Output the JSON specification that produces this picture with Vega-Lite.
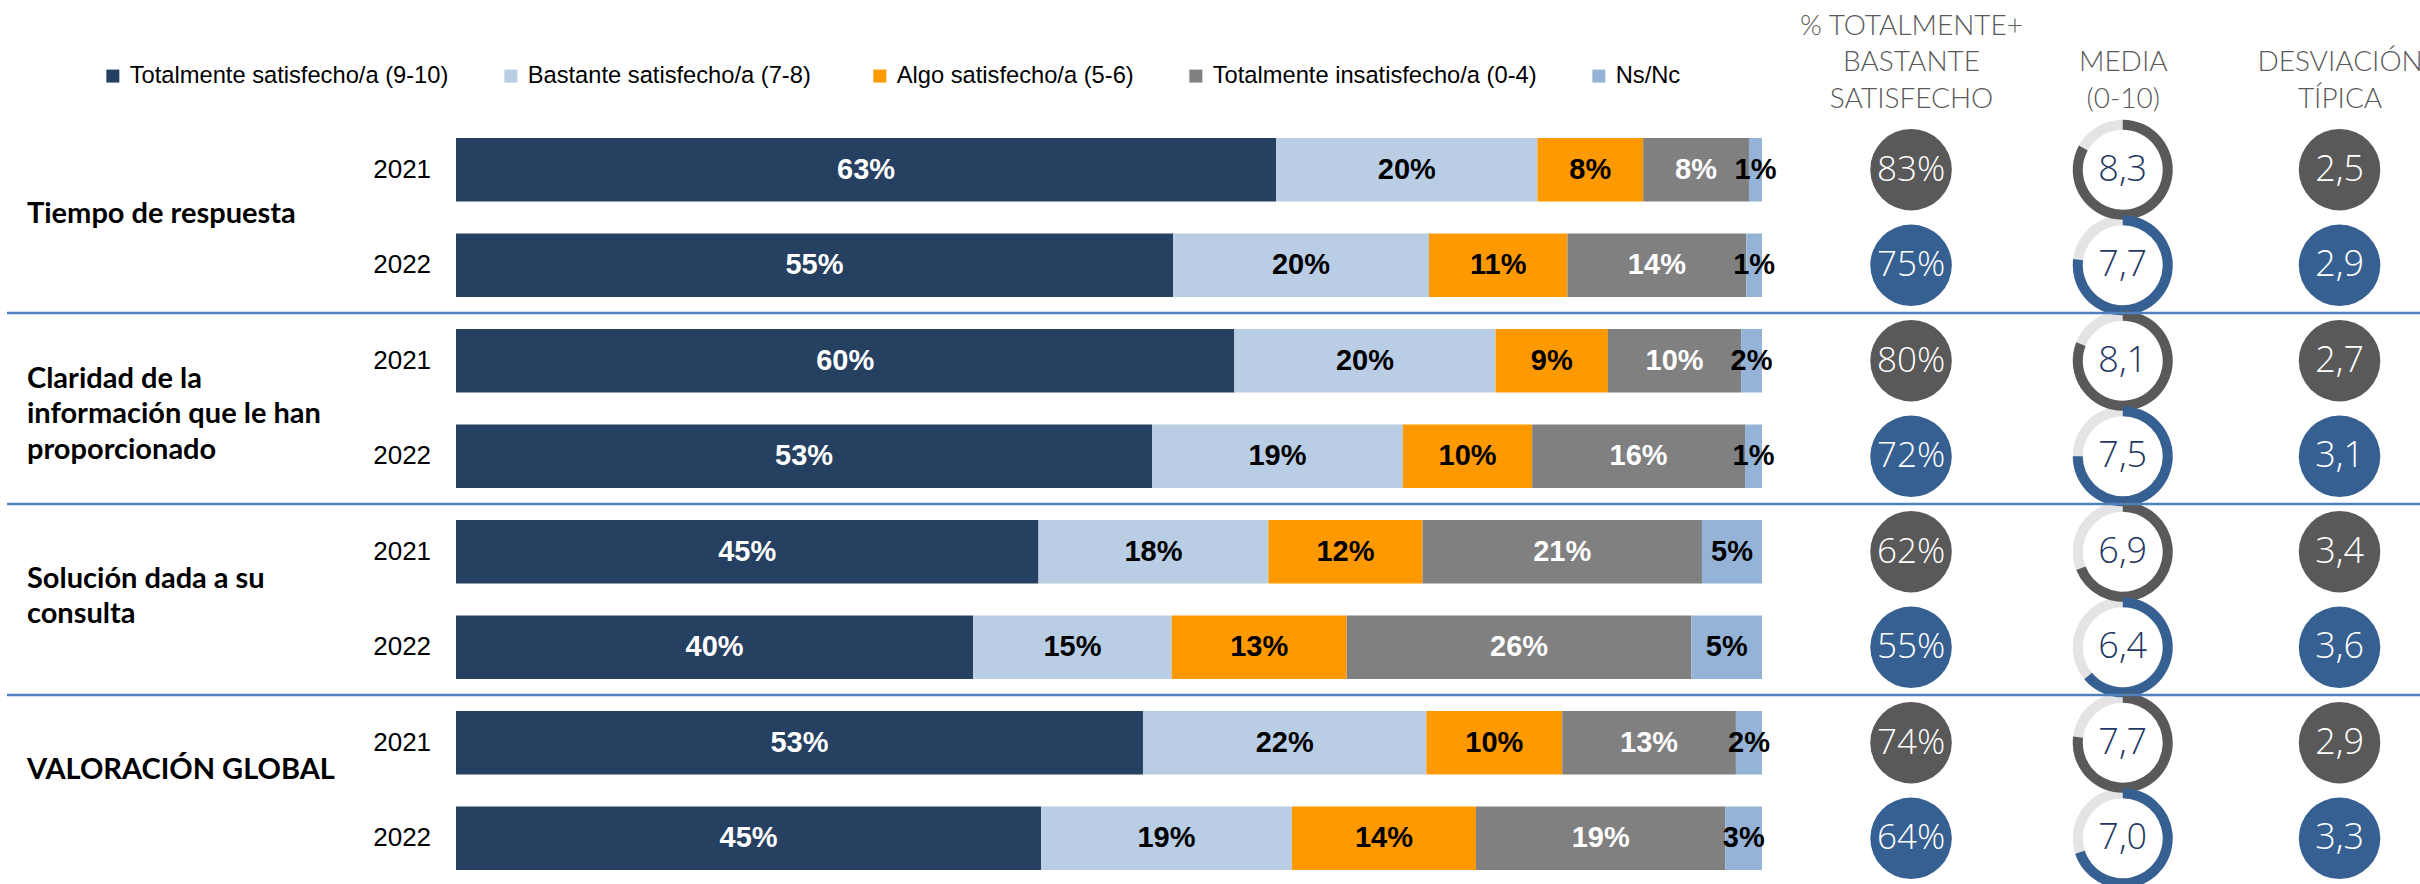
{
  "$schema": "https://vega.github.io/schema/vega-lite/v6.json",
  "autosize": "none",
  "width": 1964,
  "height": 764,
  "padding": {"left": 456, "top": 122, "right": 0, "bottom": 0},
  "background": "white",
  "config": {
    "view": {"stroke": null},
    "locale": {"number": {"decimal": ",", "thousands": ".", "grouping": [3], "currency": ["", " €"]}}
  },
  "datasets": {
    "bars": [
      {"c": "Tiempo de respuesta", "year": 2021, "resp": "Totalmente satisfecho/a (9-10)", "k": 1, "v": 0.628},
      {"c": "Tiempo de respuesta", "year": 2021, "resp": "Bastante satisfecho/a  (7-8)", "k": 2, "v": 0.200},
      {"c": "Tiempo de respuesta", "year": 2021, "resp": "Algo satisfecho/a (5-6)", "k": 3, "v": 0.081},
      {"c": "Tiempo de respuesta", "year": 2021, "resp": "Totalmente insatisfecho/a (0-4)", "k": 4, "v": 0.081},
      {"c": "Tiempo de respuesta", "year": 2021, "resp": "Ns/Nc", "k": 5, "v": 0.010},
      {"c": "Tiempo de respuesta", "year": 2022, "resp": "Totalmente satisfecho/a (9-10)", "k": 1, "v": 0.549},
      {"c": "Tiempo de respuesta", "year": 2022, "resp": "Bastante satisfecho/a  (7-8)", "k": 2, "v": 0.196},
      {"c": "Tiempo de respuesta", "year": 2022, "resp": "Algo satisfecho/a (5-6)", "k": 3, "v": 0.106},
      {"c": "Tiempo de respuesta", "year": 2022, "resp": "Totalmente insatisfecho/a (0-4)", "k": 4, "v": 0.137},
      {"c": "Tiempo de respuesta", "year": 2022, "resp": "Ns/Nc", "k": 5, "v": 0.012},
      {"c": "Claridad de la\ninformación que le han\nproporcionado", "year": 2021, "resp": "Totalmente satisfecho/a (9-10)", "k": 1, "v": 0.596},
      {"c": "Claridad de la\ninformación que le han\nproporcionado", "year": 2021, "resp": "Bastante satisfecho/a  (7-8)", "k": 2, "v": 0.200},
      {"c": "Claridad de la\ninformación que le han\nproporcionado", "year": 2021, "resp": "Algo satisfecho/a (5-6)", "k": 3, "v": 0.086},
      {"c": "Claridad de la\ninformación que le han\nproporcionado", "year": 2021, "resp": "Totalmente insatisfecho/a (0-4)", "k": 4, "v": 0.102},
      {"c": "Claridad de la\ninformación que le han\nproporcionado", "year": 2021, "resp": "Ns/Nc", "k": 5, "v": 0.016},
      {"c": "Claridad de la\ninformación que le han\nproporcionado", "year": 2022, "resp": "Totalmente satisfecho/a (9-10)", "k": 1, "v": 0.533},
      {"c": "Claridad de la\ninformación que le han\nproporcionado", "year": 2022, "resp": "Bastante satisfecho/a  (7-8)", "k": 2, "v": 0.192},
      {"c": "Claridad de la\ninformación que le han\nproporcionado", "year": 2022, "resp": "Algo satisfecho/a (5-6)", "k": 3, "v": 0.099},
      {"c": "Claridad de la\ninformación que le han\nproporcionado", "year": 2022, "resp": "Totalmente insatisfecho/a (0-4)", "k": 4, "v": 0.163},
      {"c": "Claridad de la\ninformación que le han\nproporcionado", "year": 2022, "resp": "Ns/Nc", "k": 5, "v": 0.013},
      {"c": "Solución dada a su\nconsulta", "year": 2021, "resp": "Totalmente satisfecho/a (9-10)", "k": 1, "v": 0.446},
      {"c": "Solución dada a su\nconsulta", "year": 2021, "resp": "Bastante satisfecho/a  (7-8)", "k": 2, "v": 0.176},
      {"c": "Solución dada a su\nconsulta", "year": 2021, "resp": "Algo satisfecho/a (5-6)", "k": 3, "v": 0.118},
      {"c": "Solución dada a su\nconsulta", "year": 2021, "resp": "Totalmente insatisfecho/a (0-4)", "k": 4, "v": 0.214},
      {"c": "Solución dada a su\nconsulta", "year": 2021, "resp": "Ns/Nc", "k": 5, "v": 0.046},
      {"c": "Solución dada a su\nconsulta", "year": 2022, "resp": "Totalmente satisfecho/a (9-10)", "k": 1, "v": 0.396},
      {"c": "Solución dada a su\nconsulta", "year": 2022, "resp": "Bastante satisfecho/a  (7-8)", "k": 2, "v": 0.152},
      {"c": "Solución dada a su\nconsulta", "year": 2022, "resp": "Algo satisfecho/a (5-6)", "k": 3, "v": 0.134},
      {"c": "Solución dada a su\nconsulta", "year": 2022, "resp": "Totalmente insatisfecho/a (0-4)", "k": 4, "v": 0.264},
      {"c": "Solución dada a su\nconsulta", "year": 2022, "resp": "Ns/Nc", "k": 5, "v": 0.054},
      {"c": "VALORACIÓN GLOBAL", "year": 2021, "resp": "Totalmente satisfecho/a (9-10)", "k": 1, "v": 0.526},
      {"c": "VALORACIÓN GLOBAL", "year": 2021, "resp": "Bastante satisfecho/a  (7-8)", "k": 2, "v": 0.217},
      {"c": "VALORACIÓN GLOBAL", "year": 2021, "resp": "Algo satisfecho/a (5-6)", "k": 3, "v": 0.104},
      {"c": "VALORACIÓN GLOBAL", "year": 2021, "resp": "Totalmente insatisfecho/a (0-4)", "k": 4, "v": 0.133},
      {"c": "VALORACIÓN GLOBAL", "year": 2021, "resp": "Ns/Nc", "k": 5, "v": 0.020},
      {"c": "VALORACIÓN GLOBAL", "year": 2022, "resp": "Totalmente satisfecho/a (9-10)", "k": 1, "v": 0.448},
      {"c": "VALORACIÓN GLOBAL", "year": 2022, "resp": "Bastante satisfecho/a  (7-8)", "k": 2, "v": 0.192},
      {"c": "VALORACIÓN GLOBAL", "year": 2022, "resp": "Algo satisfecho/a (5-6)", "k": 3, "v": 0.141},
      {"c": "VALORACIÓN GLOBAL", "year": 2022, "resp": "Totalmente insatisfecho/a (0-4)", "k": 4, "v": 0.191},
      {"c": "VALORACIÓN GLOBAL", "year": 2022, "resp": "Ns/Nc", "k": 5, "v": 0.028}
    ],
    "metrics": [
      {"c": "Tiempo de respuesta", "year": 2021, "tb": 0.83, "media": 8.3, "sd": 2.5},
      {"c": "Tiempo de respuesta", "year": 2022, "tb": 0.75, "media": 7.7, "sd": 2.9},
      {"c": "Claridad de la\ninformación que le han\nproporcionado", "year": 2021, "tb": 0.80, "media": 8.1, "sd": 2.7},
      {"c": "Claridad de la\ninformación que le han\nproporcionado", "year": 2022, "tb": 0.72, "media": 7.5, "sd": 3.1},
      {"c": "Solución dada a su\nconsulta", "year": 2021, "tb": 0.62, "media": 6.9, "sd": 3.4},
      {"c": "Solución dada a su\nconsulta", "year": 2022, "tb": 0.55, "media": 6.4, "sd": 3.6},
      {"c": "VALORACIÓN GLOBAL", "year": 2021, "tb": 0.74, "media": 7.7, "sd": 2.9},
      {"c": "VALORACIÓN GLOBAL", "year": 2022, "tb": 0.64, "media": 7.0, "sd": 3.3}
    ]
  },
  "layer": [
    {
      "data": {"name": "bars"},
      "mark": {"type": "bar"},
      "encoding": {
        "x": {
          "field": "v", "type": "quantitative", "stack": "zero",
          "scale": {"domain": [0, 1.5038], "nice": false, "zero": false},
          "axis": {
            "orient": "top", "values": [1.1141, 1.2762, 1.4422],
            "labelExpr": "datum.value < 1.2 ? ['% TOTALMENTE+', 'BASTANTE', 'SATISFECHO'] : datum.value < 1.35 ? ['', 'MEDIA', '(0-10)'] : ['', 'DESVIACIÓN', 'TÍPICA']",
            "title": null, "domain": false, "ticks": false, "tickSize": 0, "grid": false,
            "labelFont": "Lato", "labelFontSize": 28, "labelFontWeight": 300, "labelColor": "#595959",
            "labelLineHeight": 36.5, "labelPadding": 96, "labelOverlap": false, "labelBound": false,
            "labelFlush": false, "labelBaseline": "middle", "labelAlign": "center", "labelLimit": 1000
          }
        },
        "y": {
          "field": "c", "type": "nominal", "sort": null, "axis": null,
          "scale": {
            "domain": ["Tiempo de respuesta", "Claridad de la\ninformación que le han\nproporcionado", "Solución dada a su\nconsulta", "VALORACIÓN GLOBAL"],
            "paddingInner": 0, "paddingOuter": 0
          }
        },
        "yOffset": {"field": "year", "type": "ordinal", "scale": {"paddingInner": 0.3358, "paddingOuter": 0.167}},
        "color": {
          "field": "resp", "type": "nominal",
          "scale": {
            "domain": ["Totalmente satisfecho/a (9-10)", "Bastante satisfecho/a  (7-8)", "Algo satisfecho/a (5-6)", "Totalmente insatisfecho/a (0-4)", "Ns/Nc"],
            "range": ["#264061", "#B9CDE5", "#FF9900", "#808080", "#95B3D7"]
          },
          "legend": {
            "orient": "none", "legendX": -355, "legendY": -58, "direction": "horizontal", "columns": 5,
            "title": null, "symbolType": "square", "symbolSize": 169, "symbolStrokeWidth": 0,
            "labelFont": "Liberation Sans", "labelFontSize": 23.7, "labelColor": "black", "labelLimit": 1000,
            "labelOffset": 5, "columnPadding": 50, "padding": 0, "rowPadding": 0
          }
        },
        "order": {"field": "k", "type": "quantitative"}
      }
    },
    {
      "data": {"name": "bars"},
      "mark": {"type": "text", "font": "Liberation Sans", "fontWeight": "bold", "fontSize": 29, "align": "center", "baseline": "middle"},
      "encoding": {
        "x": {"field": "v", "type": "quantitative", "stack": "zero", "bandPosition": 0.5},
        "y": {"field": "c", "type": "nominal", "sort": null},
        "yOffset": {"field": "year", "type": "ordinal"},
        "detail": {"field": "resp"},
        "order": {"field": "k", "type": "quantitative"},
        "text": {"field": "v", "type": "quantitative", "format": ".0%"},
        "color": {"condition": {"test": "datum.k == 1 || datum.k == 4", "value": "white"}, "value": "black"}
      }
    },
    {
      "data": {"name": "metrics"},
      "mark": {"type": "text", "font": "Liberation Sans", "fontSize": 26, "align": "right", "baseline": "middle", "color": "black"},
      "encoding": {
        "x": {"datum": -0.0191, "type": "quantitative"},
        "y": {"field": "c", "type": "nominal", "sort": null},
        "yOffset": {"field": "year", "type": "ordinal"},
        "text": {"field": "year", "type": "nominal"}
      }
    },
    {
      "data": {"name": "metrics"},
      "transform": [{"filter": "datum.year == 2021 && datum.c == 'Tiempo de respuesta'"}],
      "mark": {"type": "text", "font": "Lato", "fontWeight": "bold", "fontSize": 29, "align": "left", "baseline": "middle", "dy": -4, "color": "black"},
      "encoding": {
        "x": {"datum": -0.3285, "type": "quantitative"},
        "y": {"field": "c", "type": "nominal", "sort": null},
        "text": {"field": "c", "type": "nominal"}
      }
    },
    {
      "data": {"name": "metrics"},
      "transform": [{"filter": "datum.year == 2021 && indexof(datum.c, 'Claridad') == 0"}],
      "mark": {"type": "text", "font": "Lato", "fontWeight": "bold", "fontSize": 29, "lineBreak": "\n", "lineHeight": 35.5, "align": "left", "baseline": "middle", "dy": -30, "color": "black"},
      "encoding": {
        "x": {"datum": -0.3285, "type": "quantitative"},
        "y": {"field": "c", "type": "nominal", "sort": null},
        "text": {"field": "c", "type": "nominal"}
      }
    },
    {
      "data": {"name": "metrics"},
      "transform": [{"filter": "datum.year == 2021 && (indexof(datum.c, 'Soluci') == 0 || datum.c == 'VALORACIÓN GLOBAL')"}],
      "mark": {"type": "text", "font": "Lato", "fontWeight": "bold", "fontSize": 29, "lineBreak": "\n", "lineHeight": 35.5, "align": "left", "baseline": "middle", "dy": -21, "color": "black"},
      "encoding": {
        "x": {"datum": -0.3285, "type": "quantitative"},
        "y": {"field": "c", "type": "nominal", "sort": null},
        "text": {"field": "c", "type": "nominal"}
      }
    },
    {
      "data": {"name": "metrics"},
      "mark": {"type": "point", "shape": "circle", "filled": true, "opacity": 1, "size": 6648, "strokeWidth": 0},
      "encoding": {
        "x": {"datum": 1.1141, "type": "quantitative"},
        "y": {"field": "c", "type": "nominal", "sort": null},
        "yOffset": {"field": "year", "type": "ordinal"},
        "color": {"condition": {"test": "datum.year == 2021", "value": "#595959"}, "value": "#376092"}
      }
    },
    {
      "data": {"name": "metrics"},
      "mark": {"type": "text", "font": "Open Sans", "fontWeight": 300, "fontSize": 35, "align": "center", "baseline": "middle", "color": "white"},
      "encoding": {
        "x": {"datum": 1.1141, "type": "quantitative"},
        "y": {"field": "c", "type": "nominal", "sort": null},
        "yOffset": {"field": "year", "type": "ordinal"},
        "text": {"field": "tb", "type": "quantitative", "format": ".0%"}
      }
    },
    {
      "data": {"name": "metrics"},
      "mark": {"type": "arc", "innerRadius": 40, "outerRadius": 50, "theta": 0, "theta2": 6.2832, "color": "#E4E4E4"},
      "encoding": {
        "x": {"datum": 1.2762, "type": "quantitative"},
        "y": {"field": "c", "type": "nominal", "sort": null},
        "yOffset": {"field": "year", "type": "ordinal"}
      }
    },
    {
      "data": {"name": "metrics"},
      "mark": {"type": "arc", "innerRadius": 40, "outerRadius": 50},
      "encoding": {
        "x": {"datum": 1.2762, "type": "quantitative"},
        "y": {"field": "c", "type": "nominal", "sort": null},
        "yOffset": {"field": "year", "type": "ordinal"},
        "theta": {"field": "media", "type": "quantitative", "stack": null, "scale": {"domain": [0, 10], "range": [0, 6.2832], "zero": true, "nice": false}},
        "color": {"condition": {"test": "datum.year == 2021", "value": "#595959"}, "value": "#376092"}
      }
    },
    {
      "data": {"name": "metrics"},
      "mark": {"type": "text", "font": "Open Sans", "fontWeight": 300, "fontSize": 36, "align": "center", "baseline": "middle", "color": "#1F3864"},
      "encoding": {
        "x": {"datum": 1.2762, "type": "quantitative"},
        "y": {"field": "c", "type": "nominal", "sort": null},
        "yOffset": {"field": "year", "type": "ordinal"},
        "text": {"field": "media", "type": "quantitative", "format": ".1f"}
      }
    },
    {
      "data": {"name": "metrics"},
      "mark": {"type": "point", "shape": "circle", "filled": true, "opacity": 1, "size": 6648, "strokeWidth": 0},
      "encoding": {
        "x": {"datum": 1.4422, "type": "quantitative"},
        "y": {"field": "c", "type": "nominal", "sort": null},
        "yOffset": {"field": "year", "type": "ordinal"},
        "color": {"condition": {"test": "datum.year == 2021", "value": "#595959"}, "value": "#376092"}
      }
    },
    {
      "data": {"name": "metrics"},
      "mark": {"type": "text", "font": "Open Sans", "fontWeight": 300, "fontSize": 36, "align": "center", "baseline": "middle", "color": "white"},
      "encoding": {
        "x": {"datum": 1.4422, "type": "quantitative"},
        "y": {"field": "c", "type": "nominal", "sort": null},
        "yOffset": {"field": "year", "type": "ordinal"},
        "text": {"field": "sd", "type": "quantitative", "format": ".1f"}
      }
    },
    {
      "data": {"name": "metrics"},
      "transform": [{"filter": "datum.year == 2021 && datum.c != 'Tiempo de respuesta'"}],
      "mark": {"type": "rule", "color": "#4F81BD", "strokeWidth": 2.5},
      "encoding": {
        "x": {"datum": -0.3438, "type": "quantitative"},
        "x2": {"datum": 1.5038},
        "y": {"field": "c", "type": "nominal", "sort": null, "bandPosition": 0}
      }
    }
  ]
}
